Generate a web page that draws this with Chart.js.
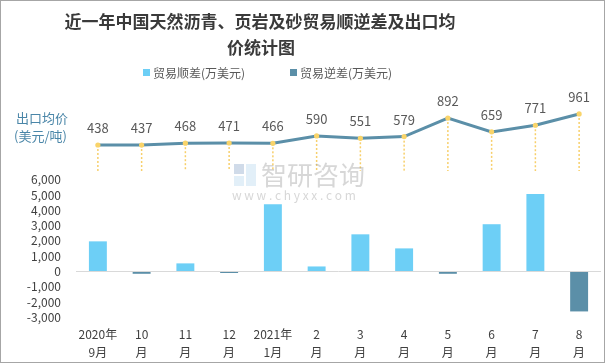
<!DOCTYPE html>
<html>
<head>
<meta charset="utf-8">
<script src="https://cdn.jsdelivr.net/npm/chart.js@4"></script>
<style>
  html, body { margin: 0; padding: 0; background: #fff; }
  #wrap { width: 605px; height: 363px; position: relative; }
</style>
</head>
<body>
<div id="wrap"><canvas id="myChart" width="605" height="363"></canvas></div>
<script>
// trade balance + export price, last 12 months

var months = [["2020年", "9月"], ["10", "月"], ["11", "月"], ["12", "月"], ["2021年", "1月"], ["2", "月"], ["3", "月"], ["4", "月"], ["5", "月"], ["6", "月"], ["7", "月"], ["8", "月"]];
var surplus = [1970, null, 530, null, 4400, 330, 2430, 1510, null, 3090, 5070, null];
var deficit = [null, -150, null, -100, null, null, null, null, -150, null, null, -2610];
var exportPrice = [438, 437, 468, 471, 466, 590, 551, 579, 892, 659, 771, 961];
var yTicks = [-3000, -2000, -1000, 0, 1000, 2000, 3000, 4000, 5000, 6000];

var titleLines = ["近一年中国天然沥青、页岩及砂贸易顺逆差及出口均", "价统计图"];
var legendItems = [
	{ text: "贸易顺差(万美元)", color: "#6DCFF6" },
	{ text: "贸易逆差(万美元)", color: "#5B8FA8" },
];
var sideLabel = ["出口均价", "(美元/吨)"];

var cjk = '"Noto Sans CJK SC", sans-serif';
Chart.defaults.font.family = cjk;
Chart.defaults.font.size = 12;
Chart.defaults.color = "#404040";

// titles, legend, watermark, drop lines and value labels
var extras = {
	id: "extras",
	beforeDatasetsDraw: function (chart) {
		var ctx = chart.ctx;
		var meta = chart.getDatasetMeta(2);
		ctx.save();
		ctx.strokeStyle = "#F7CF6A";
		ctx.lineWidth = 1.5;
		ctx.setLineDash([2, 2]);
		meta.data.forEach(function (pt) {
			ctx.beginPath();
			ctx.moveTo(pt.x, pt.y);
			ctx.lineTo(pt.x, 171);
			ctx.stroke();
		});
		ctx.restore();
	},
	afterDatasetsDraw: function (chart) {
		var ctx = chart.ctx;
		var meta = chart.getDatasetMeta(2);
		ctx.save();
		ctx.fillStyle = "#595959";
		ctx.font = "13px " + cjk;
		ctx.textAlign = "center";
		ctx.textBaseline = "middle";
		meta.data.forEach(function (pt, i) {
			ctx.fillText(exportPrice[i], pt.x, pt.y - 17);
		});
		ctx.restore();
	},
	afterDraw: function (chart) {
		var ctx = chart.ctx;
		ctx.save();

		// title
		ctx.fillStyle = "#3a3a3a";
		ctx.font = "bold 17px " + cjk;
		ctx.textAlign = "center";
		ctx.textBaseline = "middle";
		ctx.fillText(titleLines[0], 260, 22);
		ctx.fillText(titleLines[1], 261, 48);

		// legend
		ctx.font = "12px " + cjk;
		ctx.textAlign = "left";
		var lx = [143, 290];
		legendItems.forEach(function (it, i) {
			ctx.fillStyle = it.color;
			ctx.fillRect(lx[i], 69, 7, 7);
			ctx.fillStyle = "#595959";
			ctx.fillText(it.text, lx[i] + 10, 73);
		});

		// side label for the price line
		ctx.fillStyle = "#4A86A8";
		ctx.font = "13px " + cjk;
		ctx.fillText(sideLabel[0], 16, 118);
		ctx.fillText(sideLabel[1], 14, 136);

		// watermark
		ctx.globalAlpha = 0.4;
		ctx.fillStyle = "#9a9a9a";
		ctx.font = "26px " + cjk;
		ctx.fillText("智研咨询", 261, 175);
		ctx.font = "12px " + cjk;
		ctx.fillText("w w w . c h y x x . c o m", 232, 195);
		ctx.fillStyle = "#8aa6c8";
		ctx.fillRect(234, 164, 10, 10);
		ctx.fillStyle = "#b7d6ee";
		ctx.fillRect(246, 164, 10, 22);
		ctx.fillRect(234, 176, 10, 10);
		ctx.globalAlpha = 1;

		// frame
		ctx.strokeStyle = "#a6a6a6";
		ctx.lineWidth = 1;
		ctx.strokeRect(0.5, 0.5, 604, 362);
		ctx.restore();
	},
};

var ctxEl = document.getElementById("myChart");
var tradeChart = new Chart(ctxEl, {
	type: "bar",
	data: {
		labels: months,
		datasets: [
			{
				label: legendItems[0].text,
				data: surplus,
				backgroundColor: "#6DCFF6",
				grouped: false,
				categoryPercentage: 1,
				barPercentage: 0.41,
				order: 2,
			},
			{
				label: legendItems[1].text,
				data: deficit,
				backgroundColor: "#5B8FA8",
				grouped: false,
				categoryPercentage: 1,
				barPercentage: 0.41,
				order: 2,
			},
			{
				type: "line",
				label: "出口均价",
				data: exportPrice,
				yAxisID: "y2",
				borderColor: "#5B8FA8",
				borderWidth: 3,
				tension: 0,
				pointRadius: 2.6,
				pointBorderWidth: 0,
				pointBackgroundColor: "#F9D46A",
				pointBorderColor: "#F9D46A",
				order: 1,
			},
		],
	},
	options: {
		responsive: false,
		animation: false,
		layout: { padding: { top: 95, right: 1, left: 0, bottom: 0 } },
		plugins: {
			legend: { display: false },
			title: { display: false },
			tooltip: { enabled: false },
		},
		scales: {
			x: {
				grid: { display: false, drawTicks: false },
				border: { display: false },
				ticks: { padding: 4, maxRotation: 0, autoSkip: false, font: { size: 12, lineHeight: 1.45 } },
				afterFit: function (scale) { scale.height = 41; },
			},
			y: {
				min: -3301,
				max: 11536,
				afterBuildTicks: function (scale) {
					scale.ticks = yTicks.map(function (v) { return { value: v }; });
				},
				ticks: {
					padding: 15,
					callback: function (v) { return v.toLocaleString("en-US"); },
				},
				grid: {
					drawTicks: false,
					color: function (c) { return c.tick && c.tick.value === 0 ? "#d9d9d9" : "rgba(0,0,0,0)"; },
				},
				border: { display: false },
				afterFit: function (scale) { scale.width = 76; },
			},
			y2: {
				display: false,
				min: -2548,
				max: 1281,
			},
		},
	},
	plugins: [extras],
});
</script>
</body>
</html>
